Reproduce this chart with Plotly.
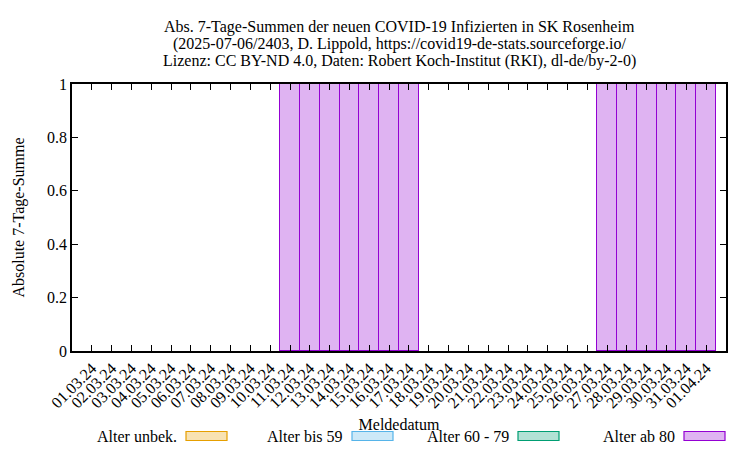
import plotly.graph_objects as go

dates = ["01.03.24", "02.03.24", "03.03.24", "04.03.24", "05.03.24", "06.03.24",
         "07.03.24", "08.03.24", "09.03.24", "10.03.24", "11.03.24", "12.03.24",
         "13.03.24", "14.03.24", "15.03.24", "16.03.24", "17.03.24", "18.03.24",
         "19.03.24", "20.03.24", "21.03.24", "22.03.24", "23.03.24", "24.03.24",
         "25.03.24", "26.03.24", "27.03.24", "28.03.24", "29.03.24", "30.03.24",
         "31.03.24", "01.04.24"]

alter_unbek = [0, 0, 0, 0, 0, 0, 0, 0, 0, 0, 0, 0, 0, 0, 0, 0,
               0, 0, 0, 0, 0, 0, 0, 0, 0, 0, 0, 0, 0, 0, 0, 0]
alter_bis_59 = [0, 0, 0, 0, 0, 0, 0, 0, 0, 0, 0, 0, 0, 0, 0, 0,
                0, 0, 0, 0, 0, 0, 0, 0, 0, 0, 0, 0, 0, 0, 0, 0]
alter_60_79 = [0, 0, 0, 0, 0, 0, 0, 0, 0, 0, 0, 0, 0, 0, 0, 0,
               0, 0, 0, 0, 0, 0, 0, 0, 0, 0, 0, 0, 0, 0, 0, 0]
alter_ab_80 = [0, 0, 0, 0, 0, 0, 0, 0, 0, 0, 1, 1, 1, 1, 1, 1,
               1, 0, 0, 0, 0, 0, 0, 0, 0, 0, 1, 1, 1, 1, 1, 1]

series_names = ["Alter unbek.", "Alter bis 59", "Alter 60 - 79", "Alter ab 80"]
series_values = [alter_unbek, alter_bis_59, alter_60_79, alter_ab_80]
line_colors = ["#e69f00", "#56b4e9", "#009e73", "#9400d3"]
fill_colors = ["#f8e2b2", "#cce9f8", "#b2e2d5", "#dfb3f2"]

title_lines = ["Abs. 7-Tage-Summen der neuen COVID-19 Infizierten in SK Rosenheim",
               "(2025-07-06/2403, D. Lippold, https://covid19-de-stats.sourceforge.io/",
               "Lizenz: CC BY-ND 4.0, Daten: Robert Koch-Institut (RKI), dl-de/by-2-0)"]

FONT = "Liberation Serif"
FS = 16
W, H = 750, 450
L, R, T, B = 72, 24, 84, 99
PW, PH = W - L - R, H - T - B

fig = go.Figure()
for name, vals, lc, fc in zip(series_names, series_values, line_colors, fill_colors):
    fig.add_trace(go.Bar(
        x=dates, y=vals, name=name, width=1,
        marker=dict(color=fc, line=dict(color=lc, width=[1.2 if v > 0 else 0 for v in vals])),
        showlegend=False,
    ))


def px_x(p):
    return (p - L) / PW


def px_y(p):
    return (H - B - p) / PH


shapes = []
annotations = []

# title lines (gnuplot-like tight line spacing)
for i, line in enumerate(title_lines):
    annotations.append(dict(xref="paper", yref="paper", x=px_x(399.5), y=px_y(27 + 17 * i),
                            xanchor="center", yanchor="middle", showarrow=False,
                            text=line, font=dict(family=FONT, size=FS, color="black")))

# custom legend (gnuplot style: text, then sample box on the right)
leg_y = 436
for i, (name, lc, fc) in enumerate(zip(series_names, line_colors, fill_colors)):
    x0 = 186 + i * 166
    shapes.append(dict(type="rect", xref="paper", yref="paper",
                       x0=px_x(x0), x1=px_x(x0 + 41), y0=px_y(leg_y + 4.5), y1=px_y(leg_y - 4.5),
                       fillcolor=fc, line=dict(color=lc, width=1.2)))
    annotations.append(dict(xref="paper", yref="paper", x=px_x(x0 - 7), y=px_y(leg_y),
                            xanchor="right", yanchor="middle", showarrow=False,
                            text=name, font=dict(family=FONT, size=FS, color="black")))

fig.update_layout(
    width=W, height=H,
    margin=dict(l=L, r=R, t=T, b=B, autoexpand=False),
    paper_bgcolor="white", plot_bgcolor="white",
    barmode="stack", bargap=0,
    font=dict(family=FONT, size=FS, color="black"),
    shapes=shapes,
    annotations=annotations,
)
fig.update_xaxes(
    range=[-1, 32], type="category", automargin=False,
    showline=True, linecolor="black", linewidth=1.5, mirror="ticks",
    ticks="inside", ticklen=6, tickcolor="black", tickwidth=1,
    tickangle=-45, tickfont=dict(family=FONT, size=FS),
    showgrid=False, zeroline=False,
    title=dict(text="Meldedatum", font=dict(family=FONT, size=FS), standoff=8),
)
fig.update_yaxes(
    range=[0, 1], dtick=0.2, automargin=False,
    showline=True, linecolor="black", linewidth=1.5, mirror="ticks",
    ticks="inside", ticklen=6, tickcolor="black", tickwidth=1,
    tickfont=dict(family=FONT, size=FS),
    showgrid=False, zeroline=False,
    title=dict(text="Absolute 7-Tage-Summe", font=dict(family=FONT, size=FS), standoff=18),
)

fig.write_html("out.html", config={"displayModeBar": False},
               post_script="document.body.style.margin='0';")
